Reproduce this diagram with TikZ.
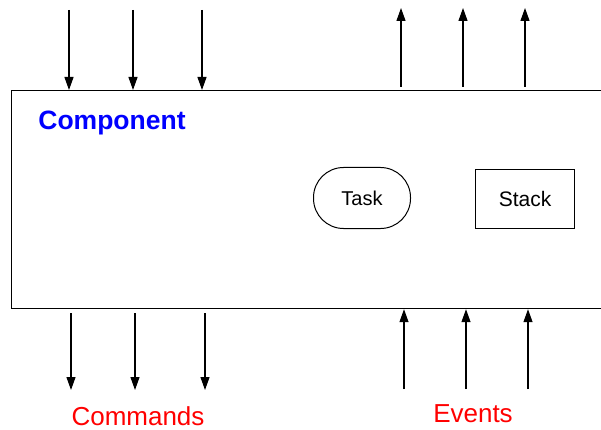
\documentclass[tikz,border=0pt]{standalone}
\usepackage{fontspec}
\setmainfont{Liberation Sans}
\usetikzlibrary{arrows.meta}

\begin{document}
\begin{tikzpicture}[x=1pt,y=-1pt,
				every node/.style={inner sep=0pt},
				arr/.style={-{Triangle[length=13pt,width=9pt]},line width=1.2pt},
				part/.style={draw,line width=1pt,font=\fontsize{20}{24}\selectfont}]
				\useasboundingbox (0,0) rectangle (601,430);
				
				\node[draw,line width=1.2pt,anchor=north west,minimum width=592pt,minimum height=218pt] (comp) at (11,90) {};
				\node[text=blue,font=\fontsize{26.5}{30}\selectfont\bfseries] (title) at (112,123) {Component};
				
				\node[part,rounded corners=30pt,minimum width=97pt,minimum height=61pt] (task) at (362,198) {Task};
				\node[part,minimum width=99pt,minimum height=58pt,font=\fontsize{21}{24}\selectfont] (stack) at (525,199) {Stack};
				
				% commands in / out
				\foreach \x [count=\i] in {69,133,202} {
					\coordinate (cin\i) at (\x,10);
					\draw[arr] (cin\i) -- (cin\i |- comp.north);
				}
				\foreach \x [count=\i] in {71,135,205} {
					\coordinate (cout\i) at (\x,313);
					\coordinate (cend\i) at (\x,390);
					\draw[arr] (cout\i) -- (cend\i);
				}
				% events out / in
				\foreach \x [count=\i] in {401,463,525} {
					\coordinate (eout\i) at (\x,87);
					\coordinate (eend\i) at (\x,8);
					\draw[arr] (eout\i) -- (eend\i);
				}
				\foreach \x [count=\i] in {404,466,528} {
					\coordinate (ein\i) at (\x,389);
					\draw[arr] (ein\i) -- (ein\i |- comp.south);
				}
				
				\node[text=red,font=\fontsize{26}{30}\selectfont] (cmds) at (138,416) {Commands};
				\node[text=red,font=\fontsize{26}{30}\selectfont] (evts) at (473,414) {Events};
			\end{tikzpicture}
\end{document}
